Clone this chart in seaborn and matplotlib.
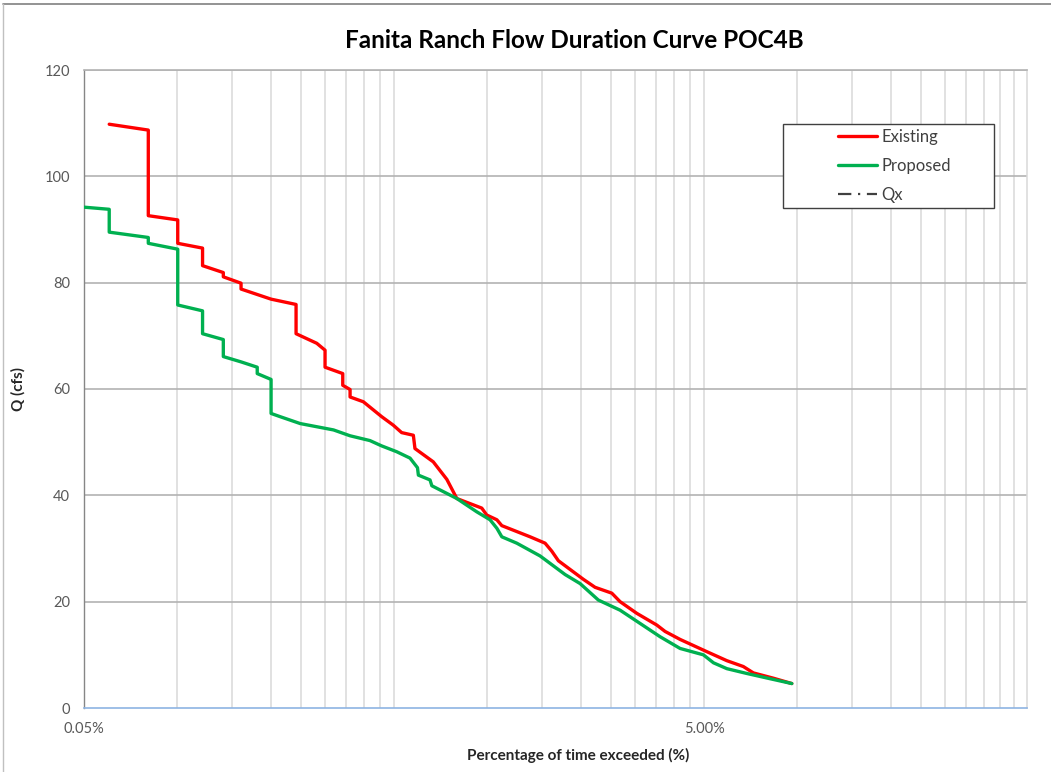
import numpy as np
import pandas as pd
import matplotlib
matplotlib.use("Agg")
import matplotlib.pyplot as plt
from matplotlib.lines import Line2D
from matplotlib.patches import Rectangle
from matplotlib.ticker import FixedLocator, NullFormatter, NullLocator
import seaborn as sns

# Flow duration data: percentage of time exceeded (%) vs flow Q (cfs)
existing_pct = [0.0603, 0.0806, 0.0806, 0.1003, 0.1003, 0.1206, 0.1206, 0.1407, 0.1407,
                0.1605, 0.1605, 0.2006, 0.2415, 0.2415, 0.2816, 0.2995, 0.2995, 0.3416,
                0.3416, 0.3607, 0.3607, 0.398, 0.456, 0.497, 0.529, 0.577, 0.584, 0.669,
                0.740, 0.797, 0.959, 0.995, 1.073, 1.113, 1.373, 1.535, 1.613, 1.694,
                1.894, 2.040, 2.225, 2.519, 2.679, 3.034, 3.519, 3.742, 4.183, 5.10,
                5.92, 6.69, 7.21, 8.37, 9.59]
existing_q = [109.8, 108.7, 92.6, 91.8, 87.4, 86.5, 83.2, 81.9, 81.1,
              79.9, 78.8, 76.9, 75.9, 70.4, 68.6, 67.3, 64.1, 62.9,
              60.7, 59.9, 58.5, 57.6, 54.8, 53.2, 51.8, 51.3, 48.8, 46.3,
              43.0, 39.4, 37.6, 36.3, 35.4, 34.3, 32.2, 31.0, 29.5, 27.7,
              25.6, 24.2, 22.7, 21.6, 20.0, 17.8, 15.6, 14.4, 12.9, 10.6,
              8.9, 7.8, 6.6, 5.6, 4.6]

proposed_pct = [0.05, 0.0603, 0.0603, 0.0806, 0.0806, 0.1003, 0.1003, 0.1206, 0.1206,
                0.1407, 0.1407, 0.1605, 0.181, 0.181, 0.2006, 0.2006, 0.2145, 0.249,
                0.319, 0.3607, 0.418, 0.456, 0.510, 0.563, 0.595, 0.599, 0.653, 0.662,
                0.797, 0.924, 1.020, 1.073, 1.113, 1.244, 1.479, 1.781, 1.991, 2.280,
                2.679, 3.109, 3.607, 4.183, 4.973, 5.36, 5.92, 6.86, 8.17, 9.59]
proposed_q = [94.2, 93.8, 89.5, 88.5, 87.4, 86.3, 75.8, 74.7, 70.4,
              69.3, 66.1, 65.1, 64.1, 62.9, 61.8, 55.4, 54.8, 53.5,
              52.3, 51.2, 50.3, 49.3, 48.2, 47.0, 45.2, 43.8, 42.9, 41.8,
              39.4, 36.9, 35.4, 33.8, 32.2, 31.0, 28.6, 25.1, 23.4, 20.3,
              18.4, 15.9, 13.4, 11.2, 10.0, 8.5, 7.4, 6.5, 5.5, 4.6]

series_names = ["Existing", "Proposed"]
series_colors = ["#FF0000", "#00B050"]
x_tick_values = [0.05, 5.0]
x_tick_labels = ["0.05%", "5.00%"]
y_ticks = [0, 20, 40, 60, 80, 100, 120]

df = pd.concat([
    pd.DataFrame({"pct": existing_pct, "q": existing_q, "series": "Existing"}),
    pd.DataFrame({"pct": proposed_pct, "q": proposed_q, "series": "Proposed"}),
], ignore_index=True)

sns.set_theme(style="white")
plt.rcParams["font.family"] = ["Lato", "DejaVu Sans"]

W, H = 1051, 772
fig = plt.figure(figsize=(W / 100, H / 100), dpi=100)
ax = fig.add_axes([84 / W, 1 - 708 / H, (1027 - 84) / W, (708 - 70) / H])

sns.lineplot(data=df, x="pct", y="q", hue="series", hue_order=series_names,
             palette=series_colors, sort=False, estimator=None, units="series",
             linewidth=2.4, ax=ax, legend=False, zorder=3)

ax.set_xscale("log")
ax.set_xlim(0.05, 55)
ax.set_ylim(0, 120)

# log-style gridlines at every 0.05 * k within each decade
grid_x = []
for base in [0.05, 0.5, 5.0]:
    for k in range(2, 10):
        grid_x.append(base * k)
grid_x += [0.5, 5.0, 50.0]
for gx in grid_x:
    ax.axvline(gx, color="#D9D9D9", linewidth=1.1, zorder=1)
for gy in y_ticks[1:]:
    ax.axhline(gy, color="#B3B3B3", linewidth=1.2, zorder=1)

ax.xaxis.set_major_locator(FixedLocator(x_tick_values))
ax.set_xticklabels(x_tick_labels)
ax.xaxis.set_minor_locator(NullLocator())
ax.xaxis.set_minor_formatter(NullFormatter())
ax.set_yticks(y_ticks)
ax.set_yticklabels([str(v) for v in y_ticks])

ax.tick_params(axis="x", which="major", direction="out", length=4, width=1,
               color="#8EB4E3", labelsize=10.5, labelcolor="#595959", pad=6)
ax.tick_params(axis="y", which="major", direction="out", length=4, width=1,
               color="#868686", labelsize=10.5, labelcolor="#595959", pad=6)

ax.spines["right"].set_color("#D9D9D9")
ax.spines["right"].set_linewidth(1.1)
ax.spines["top"].set_color("#B3B3B3")
ax.spines["top"].set_linewidth(1.2)
ax.spines["left"].set_color("#868686")
ax.spines["left"].set_linewidth(1.0)
ax.spines["bottom"].set_color("#8EB4E3")
ax.spines["bottom"].set_linewidth(1.2)

ax.set_xlabel("Percentage of time exceeded (%)", fontsize=11, fontweight="bold",
              color="#262626")
ax.set_ylabel("Q (cfs)", fontsize=11, fontweight="bold", color="#262626", labelpad=14)
ax.xaxis.set_label_coords((578 - 84) / (1027 - 84), -(748 - 708) / (708 - 70))

fig.text(574 / W, 1 - 40 / H, "Fanita Ranch Flow Duration Curve POC4B",
         ha="center", va="center", fontsize=17.5, fontweight="bold", color="#000000")

# legend: a boxed frame with the entries inside it
fig.add_artist(Rectangle((783 / W, 1 - 208 / H), (994 - 783) / W, (208 - 124) / H,
                         transform=fig.transFigure, facecolor="white",
                         edgecolor="#404040", linewidth=1.0, zorder=4))
handles = [
    Line2D([], [], color=series_colors[0], linewidth=2.4),
    Line2D([], [], color=series_colors[1], linewidth=2.4),
    Line2D([], [], color="#404040", linewidth=1.6, linestyle=(0, (6, 3, 1, 3))),
]
leg = fig.legend(handles, ["Existing", "Proposed", "Qx"], loc="center left",
                 bbox_to_anchor=(838 / W, 1 - 166 / H), bbox_transform=fig.transFigure,
                 frameon=False, fontsize=12, handlelength=2.35,
                 handletextpad=0.25, labelspacing=0.78, borderpad=0,
                 borderaxespad=0, labelcolor="#404040")
leg.set_zorder(5)

# thin frame around the chart area
fig.add_artist(Line2D([3 / W, 1], [1 - 4 / H, 1 - 4 / H], transform=fig.transFigure,
                      color="#808080", linewidth=1.2))
fig.add_artist(Line2D([3 / W, 3 / W], [0, 1 - 4 / H], transform=fig.transFigure,
                      color="#C0C0C0", linewidth=1.0))

fig.savefig("out.png", dpi=100)
